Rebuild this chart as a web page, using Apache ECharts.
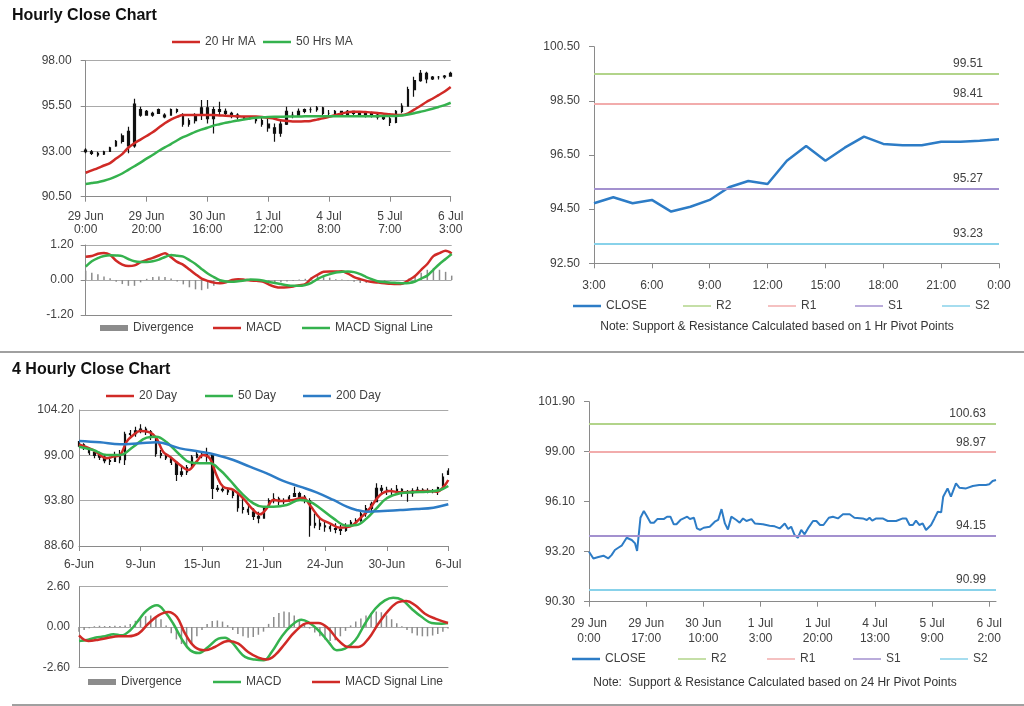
<!DOCTYPE html>
<html><head><meta charset="utf-8">
<script src="https://cdn.jsdelivr.net/npm/echarts@6/dist/echarts.min.js"></script>
<style>html,body{margin:0;padding:0;background:#fff;}
.c{position:absolute;left:0;top:0;width:1024px;height:706px;}</style>
</head><body>
<div id="a" class="c"></div><div id="b" class="c"></div>
<script>
// ================= HOURLY (top half) =================
const hourlyTickLabels = ['29 Jun\n0:00','29 Jun\n20:00','30 Jun\n16:00','1 Jul\n12:00','4 Jul\n8:00','5 Jul\n7:00','6 Jul\n3:00'];
const hourlyOpen = [93.07,92.98,92.89,92.85,93.0,93.3,93.55,94.1,93.3,95.3,95.0,95.1,95.1,95.0,95.0,95.2,95.0,94.5,94.7,95.0,95.4,94.8,95.3,95.2,95.1,95.0,94.9,94.8,94.9,94.7,94.5,94.3,94.0,94.5,95.0,95.0,95.2,95.3,95.3,95.4,95.1,95.1,95.2,95.0,95.2,95.1,95.0,95.1,95.0,94.9,94.8,94.6,95.2,95.5,96.4,96.9,97.3,97.0,97.1,97.1,97.15];
const hourlyClose = [92.98,92.89,92.80,92.98,93.20,93.55,93.85,93.3,95.6,95.0,95.2,95.0,95.3,94.9,95.3,95.3,94.5,94.7,95.0,95.4,94.8,95.3,95.2,95.1,95.0,94.9,94.8,94.9,94.7,94.5,94.3,94.0,94.5,95.2,95.0,95.2,95.3,95.3,95.4,95.1,95.1,95.2,95.0,95.2,95.1,95.0,95.1,95.0,94.9,94.8,94.6,95.2,95.5,96.4,96.9,97.3,97.0,97.1,97.1,97.15,97.3];
const hourlyLow = [92.89,92.80,92.71,92.80,92.98,93.26,93.44,92.90,93.20,94.91,95.00,94.91,95.10,94.82,95.00,95.10,94.36,94.36,94.54,94.73,94.54,93.99,95.00,94.91,94.82,94.76,94.73,94.76,94.54,94.36,94.08,93.53,93.81,94.45,94.82,95.00,95.10,95.13,95.19,95.00,94.91,94.95,94.95,95.00,94.95,94.91,94.87,94.87,94.76,94.73,94.40,94.55,95.10,95.46,96.01,96.84,96.75,96.93,96.97,97.01,97.12];
const hourlyHigh = [93.17,93.07,92.98,93.04,93.26,93.63,93.99,94.36,95.90,95.46,95.28,95.19,95.37,95.10,95.37,95.37,95.10,94.82,95.10,95.83,95.83,95.46,95.74,95.37,95.19,95.10,94.95,94.95,94.91,94.91,94.82,94.54,94.73,95.46,95.19,95.37,95.37,95.43,95.50,95.46,95.28,95.28,95.24,95.28,95.22,95.19,95.13,95.19,95.10,95.00,94.91,95.28,95.65,96.57,97.12,97.49,97.39,97.15,97.15,97.21,97.39];
const hourlyMA20 = [91.82,91.95,92.08,92.22,92.35,92.6,92.85,93.2,93.45,93.65,93.85,94.05,94.3,94.55,94.75,94.9,95.0,95.0,95.0,95.0,95.0,95.0,94.98,94.97,94.95,94.93,94.92,94.92,94.92,94.9,94.85,94.8,94.72,94.68,94.65,94.65,94.66,94.68,94.75,94.82,94.9,95.0,95.08,95.15,95.18,95.19,95.17,95.15,95.12,95.08,95.05,95.0,95.0,95.1,95.3,95.5,95.72,95.9,96.1,96.3,96.55];
const hourlyMA50 = [91.2,91.25,91.3,91.38,91.48,91.62,91.78,91.98,92.18,92.38,92.6,92.8,93.02,93.22,93.4,93.6,93.78,93.92,94.08,94.2,94.3,94.42,94.5,94.58,94.64,94.7,94.76,94.81,94.85,94.88,94.9,94.91,94.91,94.92,94.92,94.92,94.93,94.93,94.93,94.93,94.94,94.94,94.94,94.94,94.94,94.94,94.94,94.94,94.94,94.95,94.95,94.95,94.98,95.03,95.1,95.18,95.26,95.35,95.45,95.55,95.68];
const hourlyMACD = [0.80,0.82,0.90,0.93,0.86,0.66,0.53,0.48,0.50,0.61,0.69,0.76,0.84,0.92,0.78,0.62,0.52,0.36,0.20,0.05,-0.03,-0.09,-0.11,-0.08,0.0,0.03,0.01,-0.02,-0.03,-0.05,-0.15,-0.23,-0.26,-0.25,-0.22,-0.18,-0.14,0.05,0.18,0.28,0.29,0.29,0.30,0.22,0.10,0.03,-0.03,-0.07,-0.09,-0.11,-0.13,-0.14,-0.12,0.0,0.14,0.35,0.55,0.82,0.92,1.0,0.91];
const hourlySignal = [0.46,0.64,0.75,0.82,0.85,0.84,0.82,0.72,0.64,0.62,0.62,0.64,0.70,0.79,0.86,0.83,0.80,0.68,0.55,0.38,0.22,0.10,-0.01,-0.05,-0.06,-0.04,-0.02,0.02,0.01,-0.02,-0.07,-0.10,-0.14,-0.18,-0.20,-0.20,-0.17,-0.10,0.03,0.13,0.20,0.26,0.28,0.29,0.27,0.20,0.10,0.02,-0.05,-0.07,-0.09,-0.10,-0.11,-0.10,-0.05,0.05,0.15,0.35,0.55,0.72,0.89];
const hourlyDivergence = [0.32,0.25,0.20,0.12,0.06,-0.06,-0.14,-0.2,-0.2,-0.08,0.04,0.10,0.12,0.10,0.05,-0.05,-0.15,-0.25,-0.32,-0.35,-0.30,-0.20,-0.12,-0.06,0.02,0.05,0.03,0.0,-0.02,-0.04,-0.08,-0.10,-0.08,-0.05,-0.03,0.02,0.04,0.10,0.14,0.10,0.08,0.03,0.02,-0.02,-0.06,-0.10,-0.10,-0.08,-0.05,-0.03,-0.02,-0.02,-0.01,0.05,0.15,0.25,0.35,0.40,0.35,0.28,0.15];
const pivot1Times = ['3:00','4:00','5:00','6:00','7:00','8:00','9:00','10:00','11:00','12:00','13:00','14:00','15:00','16:00','17:00','18:00','19:00','20:00','21:00','22:00','23:00','0:00'];
const pivot1Close = [94.72,94.94,94.72,94.84,94.41,94.59,94.84,95.31,95.54,95.43,96.29,96.83,96.29,96.77,97.18,96.91,96.86,96.86,96.99,96.99,97.03,97.08];
const pivotNames = ['R2','R1','S1','S2'];
const pivot1Levels = [99.51, 98.41, 95.27, 93.23];

// ================= 4 HOURLY (bottom half) =================
const fourHTickLabels = ['6-Jun','9-Jun','15-Jun','21-Jun','24-Jun','30-Jun','6-Jul'];
const fourHOpen = [100.4,100.2,99.8,99.3,99.0,98.8,98.4,98.3,98.9,98.5,101.4,101.5,101.8,102.0,101.7,101.1,99.2,99.0,98.7,98.2,96.8,97.1,97.7,98.8,99.1,99.0,99.0,95.2,95.1,95.0,94.8,94.4,93.0,92.8,92.5,92.0,91.8,93.2,93.8,94.0,93.7,93.8,94.3,94.6,94.2,93.8,91.0,91.2,90.9,90.8,90.6,90.5,90.4,90.9,91.3,91.5,92.3,92.9,93.7,95.2,95.0,94.9,94.9,95.1,94.8,94.7,94.9,95.0,94.9,94.9,94.9,95.5,96.8];
const fourHClose = [100.2,99.8,99.3,99.0,98.8,98.4,98.3,98.9,98.5,101.4,101.5,101.8,102.0,101.7,101.1,99.2,99.0,98.7,98.2,96.8,97.1,97.6,98.8,99.1,99.0,99.3,95.2,95.1,95.0,94.8,94.4,93.0,92.8,92.5,92.0,91.8,92.9,93.8,94.0,93.7,93.8,94.2,94.6,94.2,93.8,91.0,91.2,90.9,90.8,90.6,90.5,90.4,90.9,91.3,91.5,92.3,92.9,93.4,95.2,95.0,94.9,94.9,95.1,94.8,94.7,94.9,95.0,94.9,94.9,94.9,95.3,96.5,97.2];
const fourHLow = [99.99,99.61,99.04,98.66,98.46,98.08,97.89,98.27,98.08,97.89,100.95,101.14,101.52,101.33,100.76,98.85,98.66,98.46,97.89,96.06,96.55,96.74,97.70,98.66,98.66,98.27,94.00,94.83,94.76,94.45,94.07,92.53,92.34,92.15,91.58,91.20,91.77,93.11,93.49,93.30,93.38,93.69,94.26,93.88,93.49,89.67,90.63,90.44,90.24,90.24,90.05,89.86,90.24,90.82,91.00,91.39,91.96,92.53,93.69,94.45,94.45,94.45,94.53,94.26,93.69,94.26,94.76,94.76,94.64,94.64,94.45,95.41,96.74];
const fourHHigh = [100.64,100.38,99.80,99.61,99.42,99.04,98.85,99.42,99.61,101.71,101.90,102.29,102.56,102.29,101.90,101.14,99.61,99.23,98.85,98.27,97.70,97.89,99.04,99.61,99.50,99.88,99.04,95.60,95.41,95.22,95.03,94.64,94.07,93.49,92.92,92.54,93.11,94.07,94.64,94.26,94.07,94.45,95.41,94.83,94.45,94.07,92.34,91.77,91.58,91.20,91.20,91.00,91.20,91.58,91.77,92.73,93.30,93.69,95.79,95.60,95.41,95.22,95.60,95.22,95.03,95.22,95.41,95.22,95.22,95.14,95.41,96.94,97.51];
const fourHMA20 = [[0,100.26],[2.8,99.61],[5.4,98.66],[6.7,98.85],[8.0,99.04],[9.3,100.57],[10.6,101.33],[11.9,101.79],[13.8,101.64],[15.1,100.95],[16.4,99.42],[17.7,98.85],[19.7,97.89],[21.3,97.32],[22.9,98.27],[24.2,99.04],[25.5,98.66],[26.8,96.74],[28.1,95.41],[30.1,95.03],[32.0,94.07],[34.0,92.73],[35.3,92.23],[36.6,92.92],[37.9,93.88],[39.8,93.76],[41.8,93.88],[43.7,94.14],[45.0,93.3],[47.0,91.77],[48.9,91.2],[50.9,90.7],[52.8,90.82],[54.8,91.77],[56.7,92.92],[58.7,94.45],[60.6,94.91],[62.6,94.76],[65.2,94.83],[67.8,94.91],[69.7,94.83],[72,96.17]];
const fourHMA50 = [[0,99.99],[2.8,99.61],[5.4,99.04],[8.0,99.04],[10.6,99.99],[13.2,101.03],[15.1,101.14],[17.1,100.49],[19.7,99.04],[21.6,98.2],[23.6,98.08],[25.5,98.08],[27.5,97.32],[29.4,96.17],[31.4,94.83],[34.0,93.49],[35.9,93.11],[37.9,93.11],[40.5,93.3],[43.1,93.88],[45.0,93.69],[47.0,92.92],[49.6,91.77],[52.2,90.93],[54.1,91.0],[56.1,91.77],[58.0,92.92],[60.0,94.07],[62.6,94.64],[65.2,94.76],[67.8,94.83],[70.4,95.03],[72,95.48]];
const fourHMA200 = [[0,100.64],[4.1,100.49],[8.0,100.26],[11.9,100.38],[15.1,100.49],[19.7,99.8],[23.6,99.42],[26.8,99.04],[30.1,98.46],[33.3,97.7],[36.6,96.94],[39.8,96.06],[43.1,95.41],[46.3,94.76],[49.6,93.88],[52.2,93.11],[54.1,92.73],[56.1,92.54],[59.3,92.61],[62.6,92.73],[65.8,92.84],[69.1,93.0],[72,93.38]];
const fourHMACD = [[0,-0.9],[1.8,-0.82],[3.1,-0.69],[5.1,-0.6],[6.7,-0.47],[8.3,-0.54],[10.0,-0.21],[11.6,0.43],[13.2,1.07],[15.2,1.4],[16.8,0.97],[18.4,0.21],[20.0,-0.75],[21.7,-1.5],[23.3,-1.68],[25.2,-1.29],[27.2,-0.75],[28.5,-0.69],[29.8,-0.97],[31.1,-1.5],[32.4,-1.93],[34.3,-2.1],[36.0,-2.15],[37.6,-1.61],[39.5,-0.64],[41.5,0.11],[43.4,0.47],[44.7,0.32],[46.7,-0.21],[48.7,-0.97],[50.3,-1.5],[51.9,-1.4],[53.9,-0.86],[55.8,0.21],[57.8,1.18],[59.7,1.72],[61.3,1.89],[63.0,1.76],[64.9,1.18],[66.9,0.64],[68.8,0.26],[70.8,0.21],[72,0.26]];
const fourHSignal = [[0,-0.54],[1.8,-0.9],[3.8,-0.82],[5.7,-0.69],[7.7,-0.6],[9.6,-0.6],[11.6,-0.43],[13.5,0.21],[15.5,0.75],[17.4,0.97],[19.1,0.64],[20.7,-0.43],[22.6,-1.29],[24.6,-1.5],[26.5,-1.29],[29.1,-0.9],[31.1,-1.07],[33.0,-1.61],[35.0,-1.98],[36.6,-2.1],[38.2,-1.83],[40.2,-1.07],[42.1,-0.32],[44.7,0.26],[46.7,0.26],[48.7,-0.11],[50.6,-0.86],[52.6,-1.29],[54.5,-1.29],[56.5,-0.75],[58.4,0.21],[60.4,1.07],[62.3,1.61],[63.9,1.68],[65.6,1.4],[67.5,0.86],[69.5,0.54],[72,0.26]];
const fourHDivergence = [-0.3,-0.2,-0.08,0.05,0.08,0.06,0.07,0.08,0.06,0.1,0.2,0.4,0.55,0.7,0.75,0.7,0.5,0.1,-0.4,-0.8,-1.1,-1.25,-1.05,-0.6,-0.2,0.2,0.38,0.42,0.35,0.12,-0.2,-0.45,-0.6,-0.7,-0.65,-0.5,-0.3,0.2,0.65,0.9,1.0,0.95,0.75,0.45,0.15,-0.1,-0.35,-0.6,-0.8,-0.9,-0.85,-0.6,-0.25,0.1,0.35,0.55,0.75,0.9,1.0,0.95,0.75,0.5,0.25,0.05,-0.2,-0.4,-0.55,-0.6,-0.6,-0.55,-0.45,-0.3,-0.1];
const pivot24TickLabels = ['29 Jun\n0:00','29 Jun\n17:00','30 Jun\n10:00','1 Jul\n3:00','1 Jul\n20:00','4 Jul\n13:00','5 Jul\n9:00','6 Jul\n2:00'];
const pivot24TickHours = [0,17,34,51,68,85,102,119];
const pivot24Close = [[0,93.2],[1.3,92.81],[2.8,92.89],[4.3,92.97],[5.7,92.81],[6.7,93.0],[7.7,93.3],[8.7,93.43],[9.7,93.55],[11.2,94.01],[12.7,93.88],[13.7,93.68],[14.3,93.24],[15.3,95.17],[16.3,95.56],[17.1,95.3],[18.3,94.88],[19.3,94.88],[20.3,95.09],[22.2,95.09],[23.2,95.23],[24.2,95.23],[25.2,94.79],[26.0,94.79],[27.2,95.04],[29.2,95.23],[30.0,95.1],[31.2,95.17],[32.1,94.55],[33.0,94.46],[34.1,94.59],[35.9,94.65],[37.4,94.94],[38.4,95.04],[39.4,95.67],[40.4,94.84],[41.3,94.49],[42.3,95.23],[43.8,95.04],[44.8,94.88],[45.8,95.13],[46.8,94.98],[48.3,95.09],[49.3,94.84],[51.7,94.79],[53.7,94.71],[55.2,94.67],[55.7,94.75],[56.7,94.55],[58.2,94.84],[59.2,94.52],[60.1,94.65],[61.1,94.17],[62.1,94.01],[63.1,94.46],[64.1,94.21],[65.1,94.55],[66.6,94.98],[67.6,94.98],[68.7,94.75],[69.7,94.75],[71.3,95.17],[72.5,95.23],[74.0,95.13],[75.5,95.37],[77.5,95.37],[78.9,95.17],[81.4,95.13],[82.6,95.04],[83.4,95.17],[84.2,95.0],[85.4,95.13],[87.3,95.13],[88.8,94.98],[91.3,94.98],[93.3,95.13],[94.3,95.13],[95.3,94.75],[96.3,94.75],[97.2,95.0],[98.2,94.75],[99.2,94.84],[100.2,94.46],[101.7,94.75],[102.7,95.13],[103.7,95.52],[104.7,95.48],[105.3,96.39],[106.6,96.87],[107.6,96.39],[109.1,97.16],[110.1,96.91],[112.1,96.87],[114.1,97.01],[116.0,97.07],[118.0,97.07],[119.0,97.11],[120.0,97.3],[121,97.36]];
const pivot24Levels = [100.63, 98.97, 94.15, 90.99];

// ================= styling =================
const FONT = '"Liberation Sans", Arial, sans-serif';
const TXT = '#404040', AXC = '#8a8a8a', GRC = '#a9a9a9';
const RED = '#d02a26', GREEN = '#35b24e', BLUE = '#2d7cc6', DIVC = '#8c8c8c';
const PIV = ['#b2d48a', '#f2acac', '#a391cf', '#88d2ea'];
const lbl = o => Object.assign({color: TXT, fontSize: 12, fontFamily: FONT}, o || {});
const fix2 = v => Number(v).toFixed(2);

function yAx(grid, min, max, interval, margin, ticks, split) {
  return { type: 'value', gridIndex: grid, min, max, interval,
    axisLine: {show: true, lineStyle: {color: AXC}},
    axisTick: {show: ticks, length: 5, lineStyle: {color: AXC}},
    axisLabel: lbl({margin, formatter: fix2}),
    splitLine: {show: split, lineStyle: {color: GRC}} };
}
function hiddenX(grid, max) {
  return {type: 'value', gridIndex: grid, min: 0, max, show: false};
}
function catX(grid, n, opts) {
  return Object.assign({ type: 'category', gridIndex: grid, boundaryGap: false,
    data: Array.from({length: n}, (_, i) => String(i)),
    axisLine: {show: true, onZero: false, lineStyle: {color: AXC}},
    axisTick: {show: false}, axisLabel: {show: false}, splitLine: {show: false} }, opts);
}
function leg(name, left, top, extra) {
  return Object.assign({ data: [name], left, top, padding: 0, itemWidth: 28, itemHeight: 2.5, icon: 'rect',
    selectedMode: false, textStyle: lbl() }, extra || {});
}
function lineS(name, xi, yi, data, color, width, smooth) {
  return { name, type: 'line', xAxisIndex: xi, yAxisIndex: yi, data, symbol: 'none',
    smooth: smooth || false, lineStyle: {color, width}, itemStyle: {color}, z: 3 };
}
function candleS(xi, yi, o, c, l, h, w) {
  return { name: 'price', type: 'candlestick', xAxisIndex: xi, yAxisIndex: yi,
    data: o.map((v, i) => [v, c[i], l[i], h[i]]), barWidth: w,
    itemStyle: {color: '#111', color0: '#111', borderColor: '#111', borderColor0: '#111', borderWidth: 1.2} };
}
function pivotS(k, xi, yi, levels, dist) {
  return { name: pivotNames[k], type: 'line', xAxisIndex: xi, yAxisIndex: yi, data: [], symbol: 'none',
    lineStyle: {color: PIV[k], width: 2}, itemStyle: {color: PIV[k]},
    markLine: { silent: true, symbol: 'none', animation: false,
      data: [{yAxis: levels[k]}], lineStyle: {color: PIV[k], width: 2, type: 'solid'},
      label: lbl({position: 'insideEndTop', formatter: fix2(levels[k]), distance: dist}) } };
}
function title(text, y) {
  return {type: 'text', left: 12, top: y, style: {text, fill: '#111', font: 'bold 16px ' + FONT}};
}
function note(text, cx, cy) {
  return {type: 'text', x: cx, y: cy, style: {text, fill: '#333', font: '12px ' + FONT, align: 'center', verticalAlign: 'middle'}};
}
function sep(x1, y) {
  return {type: 'line', shape: {x1, y1: y, x2: 1024, y2: y}, style: {stroke: '#a0a0a0', lineWidth: 2}};
}
const thin = {itemHeight: 1.5};
const box = {itemHeight: 6};

// ================= TOP =================
const chartA = echarts.init(document.getElementById('a'), null, {renderer: 'canvas'});
chartA.setOption({
  animation: false,
  grid: [
    {left: 85.7, top: 60.7, width: 365, height: 136, outerBoundsMode: 'none'},
    {left: 85.7, top: 245, width: 366, height: 70, outerBoundsMode: 'none'},
    {left: 594, top: 46.7, width: 405, height: 216.6, outerBoundsMode: 'none'}
  ],
  xAxis: [
    catX(0, hourlyClose.length, {
      axisTick: {show: true, interval: 9, length: 5, lineStyle: {color: AXC}},
      axisLabel: lbl({show: true, interval: 9, margin: 13, lineHeight: 13,
        formatter: (v, i) => hourlyTickLabels[i / 10] || ''})}),
    catX(1, hourlyDivergence.length),
    { type: 'category', gridIndex: 2, boundaryGap: false, data: pivot1Times,
      axisLine: {show: true, lineStyle: {color: AXC}},
      axisTick: {show: true, interval: 2, length: 5, lineStyle: {color: AXC}},
      axisLabel: lbl({interval: 2, margin: 16}) }
  ],
  yAxis: [
    yAx(0, 90.5, 98, 2.5, 14, true, true),
    yAx(1, -1.2, 1.2, 1.2, 12, true, true),
    yAx(2, 92.5, 100.5, 2, 14, true, false)
  ],
  legend: [
    leg('20 Hr MA', 172, 36), leg('50 Hrs MA', 263, 36),
    leg('Divergence', 100, 322, box), leg('MACD', 213, 322), leg('MACD Signal Line', 302, 322),
    leg('CLOSE', 573, 300), leg('R2', 683, 300, thin), leg('R1', 768, 300, thin), leg('S1', 855, 300, thin), leg('S2', 942, 300, thin)
  ],
  series: [
    candleS(0, 0, hourlyOpen, hourlyClose, hourlyLow, hourlyHigh, 2.2),
    lineS('20 Hr MA', 0, 0, hourlyMA20, RED, 2.5, 0.3),
    lineS('50 Hrs MA', 0, 0, hourlyMA50, GREEN, 2.5, 0.3),
    {name: 'Divergence', type: 'bar', xAxisIndex: 1, yAxisIndex: 1, data: hourlyDivergence, barWidth: 1.5, itemStyle: {color: DIVC}},
    lineS('MACD', 1, 1, hourlyMACD, RED, 2.5, 0.3),
    lineS('MACD Signal Line', 1, 1, hourlySignal, GREEN, 2.5, 0.3),
    pivotS(0, 2, 2, pivot1Levels, [16, 4]), pivotS(1, 2, 2, pivot1Levels, [16, 4]),
    pivotS(2, 2, 2, pivot1Levels, [16, 4]), pivotS(3, 2, 2, pivot1Levels, [16, 4]),
    lineS('CLOSE', 2, 2, pivot1Close, BLUE, 2.5, false)
  ],
  graphic: [
    title('Hourly Close Chart', 8),
    note('Note: Support & Resistance Calculated based on 1 Hr Pivot Points', 777, 327),
    sep(0, 352)
  ]
});

// ================= BOTTOM =================
const chartB = echarts.init(document.getElementById('b'), null, {renderer: 'canvas'});
chartB.setOption({
  animation: false,
  grid: [
    {left: 79, top: 410, width: 369.3, height: 136, outerBoundsMode: 'none'},
    {left: 79, top: 586.7, width: 369, height: 80.6, outerBoundsMode: 'none'},
    {left: 589, top: 401.7, width: 407, height: 200, outerBoundsMode: 'none'}
  ],
  xAxis: [
    catX(0, fourHClose.length, {
      axisTick: {show: true, interval: 11, length: 5, lineStyle: {color: AXC}},
      axisLabel: lbl({show: true, interval: 11, margin: 13,
        formatter: (v, i) => fourHTickLabels[i / 12] || ''})}),
    hiddenX(0, fourHClose.length - 1),
    catX(1, fourHDivergence.length),
    hiddenX(1, fourHDivergence.length - 1),
    { type: 'value', gridIndex: 2, min: 0, max: 121,
      axisLine: {show: true, lineStyle: {color: AXC}},
      axisTick: {show: true, length: 5, customValues: pivot24TickHours, lineStyle: {color: AXC}},
      axisLabel: lbl({customValues: pivot24TickHours, margin: 14, lineHeight: 15,
        formatter: v => pivot24TickLabels[pivot24TickHours.indexOf(v)] || ''}),
      splitLine: {show: false} }
  ],
  yAxis: [
    yAx(0, 88.6, 104.2, 5.2, 5, false, true),
    yAx(1, -2.6, 2.6, 2.6, 9, false, true),
    yAx(2, 90.3, 101.9, 2.9, 14, true, false)
  ],
  legend: [
    leg('20 Day', 106, 390), leg('50 Day', 205, 390), leg('200 Day', 303, 390),
    leg('Divergence', 88, 676, box), leg('MACD', 213, 676), leg('MACD Signal Line', 312, 676),
    leg('CLOSE', 572, 653), leg('R2', 678, 653, thin), leg('R1', 767, 653, thin), leg('S1', 853, 653, thin), leg('S2', 940, 653, thin)
  ],
  series: [
    candleS(0, 0, fourHOpen, fourHClose, fourHLow, fourHHigh, 1.8),
    lineS('20 Day', 1, 0, fourHMA20, RED, 2.5, 0.4),
    lineS('50 Day', 1, 0, fourHMA50, GREEN, 2.5, 0.4),
    lineS('200 Day', 1, 0, fourHMA200, BLUE, 2.5, 0.4),
    {name: 'Divergence', type: 'bar', xAxisIndex: 2, yAxisIndex: 1, data: fourHDivergence, barWidth: 1.5, itemStyle: {color: DIVC}},
    lineS('MACD', 3, 1, fourHMACD, GREEN, 2.5, 0.4),
    lineS('MACD Signal Line', 3, 1, fourHSignal, RED, 2.5, 0.4),
    pivotS(0, 4, 2, pivot24Levels, [10, 4]), pivotS(1, 4, 2, pivot24Levels, [10, 4]),
    pivotS(2, 4, 2, pivot24Levels, [10, 4]), pivotS(3, 4, 2, pivot24Levels, [10, 4]),
    lineS('CLOSE', 4, 2, pivot24Close, BLUE, 2, false)
  ],
  graphic: [
    title('4 Hourly Close Chart', 362),
    note('Note:  Support & Resistance Calculated based on 24 Hr Pivot Points', 775, 683),
    sep(12, 705)
  ]
});
</script></body></html>
